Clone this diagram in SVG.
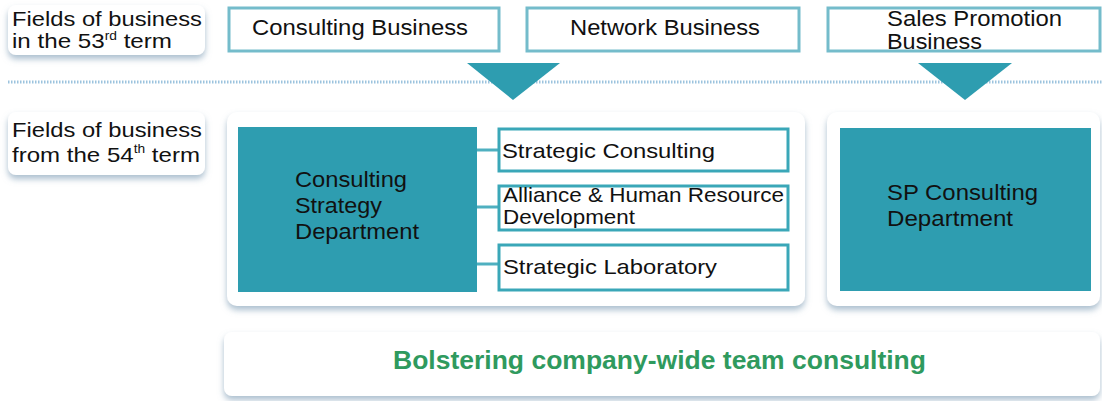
<svg xmlns="http://www.w3.org/2000/svg" width="1102" height="401" viewBox="0 0 1102 401">
<defs>
<filter id="sh" x="-10%" y="-20%" width="120%" height="150%">
<feDropShadow dx="0" dy="4" stdDeviation="3" flood-color="#7f9db5" flood-opacity="0.65"/>
</filter>
</defs>
<style>
text{font-family:"Liberation Sans",Arial,sans-serif;fill:#111;}
.lbl{font-size:21px;}
.t{font-size:22px;}
.sup{font-size:12px;}
.panel{fill:#fff;filter:url(#sh);}
.top{fill:#fff;stroke:#74bccb;stroke-width:3;}
.sub{fill:#fff;stroke:#3aa7b8;stroke-width:3;}
.dept{fill:#2e9db0;}
.tri{fill:#2e9db0;}
.conn{stroke:#4fb0c0;stroke-width:3;fill:none;}
.goal{font-size:25px;font-weight:bold;fill:#2f9a5e;}
</style>
<rect width="1102" height="401" fill="#fff"/>
<line x1="8" y1="82" x2="1102" y2="82" stroke="#9cc3de" stroke-width="3" stroke-dasharray="1.5 1.5"/>

<g id="label53">
<rect class="panel" x="8" y="5" width="197" height="50" rx="8"/>
<text class="lbl" x="12" y="26" textLength="190" lengthAdjust="spacingAndGlyphs">Fields of business</text>
<text class="lbl" x="12" y="48" textLength="160" lengthAdjust="spacingAndGlyphs">in the 53<tspan class="sup" dy="-8">rd</tspan><tspan dy="8"> term</tspan></text>
</g>

<g id="consulting-business">
<rect class="top" x="229" y="8" width="270" height="43"/>
<text class="t" x="252" y="35" textLength="216" lengthAdjust="spacingAndGlyphs">Consulting Business</text>
</g>
<g id="network-business">
<rect class="top" x="527" y="8" width="272" height="43"/>
<text class="t" x="570" y="35" textLength="190" lengthAdjust="spacingAndGlyphs">Network Business</text>
</g>
<g id="sales-promotion-business">
<rect class="top" x="828" y="8" width="272" height="43"/>
<text class="t" x="887" y="26" textLength="175" lengthAdjust="spacingAndGlyphs">Sales Promotion</text>
<text class="t" x="887" y="49" textLength="95" lengthAdjust="spacingAndGlyphs">Business</text>
</g>

<g id="arrows">
<polygon class="tri" points="467,63 560,63 513,100"/>
<polygon class="tri" points="918,63 1012,63 965,100"/>
</g>

<g id="label54">
<rect class="panel" x="8" y="112" width="197" height="63" rx="8"/>
<text class="lbl" x="12" y="137" textLength="190" lengthAdjust="spacingAndGlyphs">Fields of business</text>
<text class="lbl" x="12" y="162" textLength="188" lengthAdjust="spacingAndGlyphs">from the 54<tspan class="sup" dy="-9">th</tspan><tspan dy="9"> term</tspan></text>
</g>

<g id="left-panel">
<rect class="panel" x="227" y="112" width="578" height="194" rx="10"/>
</g>
<g id="right-panel">
<rect class="panel" x="827" y="112" width="273" height="194" rx="10"/>
</g>

<g id="connectors">
<line class="conn" x1="477" y1="150" x2="499" y2="150"/>
<line class="conn" x1="477" y1="207" x2="499" y2="207"/>
<line class="conn" x1="477" y1="264" x2="499" y2="264"/>
</g>

<g id="consulting-strategy-department">
<rect class="dept" x="238" y="127" width="239" height="165"/>
<text class="t" x="295" y="187" textLength="112" lengthAdjust="spacingAndGlyphs">Consulting</text>
<text class="t" x="295" y="213" textLength="87" lengthAdjust="spacingAndGlyphs">Strategy</text>
<text class="t" x="295" y="239" textLength="124" lengthAdjust="spacingAndGlyphs">Department</text>
</g>

<g id="strategic-consulting">
<rect class="sub" x="499" y="129" width="289" height="42"/>
<text class="lbl" x="502" y="158" textLength="213" lengthAdjust="spacingAndGlyphs">Strategic Consulting</text>
</g>
<g id="alliance-hr">
<rect class="sub" x="499" y="186" width="289" height="44"/>
<text class="lbl" x="503" y="202" textLength="281" lengthAdjust="spacingAndGlyphs">Alliance &amp; Human Resource</text>
<text class="lbl" x="503" y="224" textLength="132" lengthAdjust="spacingAndGlyphs">Development</text>
</g>
<g id="strategic-laboratory">
<rect class="sub" x="499" y="245" width="289" height="45"/>
<text class="lbl" x="503" y="274" textLength="214" lengthAdjust="spacingAndGlyphs">Strategic Laboratory</text>
</g>

<g id="sp-consulting-department">
<rect class="dept" x="840" y="128" width="251" height="163"/>
<text class="t" x="887" y="200" textLength="151" lengthAdjust="spacingAndGlyphs">SP Consulting</text>
<text class="t" x="887" y="226" textLength="126" lengthAdjust="spacingAndGlyphs">Department</text>
</g>

<g id="goal">
<rect class="panel" x="224" y="332" width="876" height="64" rx="8"/>
<text class="goal" x="393" y="369" textLength="533" lengthAdjust="spacingAndGlyphs">Bolstering company-wide team consulting</text>
</g>
</svg>
